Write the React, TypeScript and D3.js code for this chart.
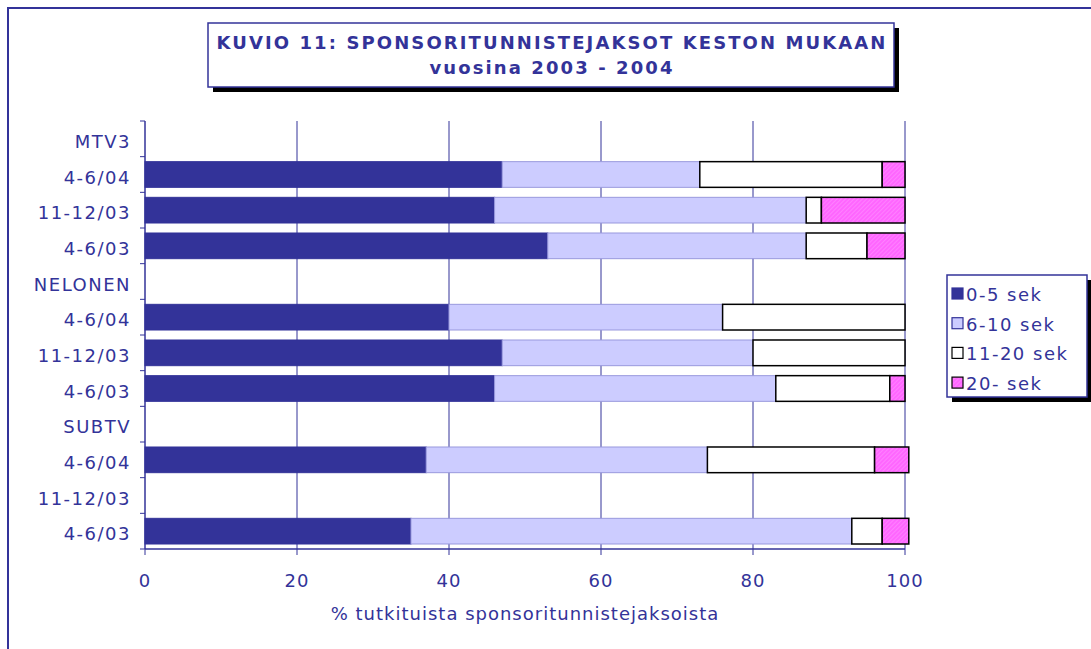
import React from "react";
import * as d3 from "d3";

// rows of the chart, top to bottom (group headers have no bars)
const rowLabels = [
  "MTV3", "4-6/04", "11-12/03", "4-6/03",
  "NELONEN", "4-6/04", "11-12/03", "4-6/03",
  "SUBTV", "4-6/04", "11-12/03", "4-6/03",
];
const seriesNames = ["0-5 sek", "6-10 sek", "11-20 sek", "20- sek"];
const sek0_5 = [0, 47, 46, 53, 0, 40, 47, 46, 0, 37, 0, 35];
const sek6_10 = [0, 26, 41, 34, 0, 36, 33, 37, 0, 37, 0, 58];
const sek11_20 = [0, 24, 2, 8, 0, 24, 20, 15, 0, 22, 0, 4];
const sek20 = [0, 3, 11, 5, 0, 0, 0, 2, 0, 4.5, 0, 3.5];
const xTicks = [0, 20, 40, 60, 80, 100];

const BLUE = "#333399";
const fills = [BLUE, "#CCCCFF", "#FFFFFF", "url(#pinkHatch)"];
const strokes = [BLUE, "#9999DD", "#000000", "#000000"];
const strokeW = [1, 1, 1.5, 1.5];

export default function App() {
  let series = [sek0_5, sek6_10, sek11_20, sek20];
  let idx = rowLabels.map((d, i) => i);

  let x = d3.scaleLinear().domain([0, 100]).range([145, 905]);
  let y = d3.scaleBand<number>().domain(idx).range([121, 549]).paddingInner(0.28).paddingOuter(0.14);
  let step = y.step();
  let top = 121;
  let bottom = 549;

  const font = "DejaVu Sans, Verdana, sans-serif";

  // stack the series per row
  let segs: any[] = [];
  idx.forEach((r) => {
    let acc = 0;
    series.forEach((s, k) => {
      let v = s[r];
      if (v > 0) {
        segs.push({ r, k, x0: acc, x1: acc + v });
      }
      acc += v;
    });
  });

  return (
    <svg width={1091} height={649} style={{ position: "absolute", left: 0, top: 0, background: "#fff" }}>
      <defs>
        <pattern id="pinkHatch" width="3" height="3" patternUnits="userSpaceOnUse" patternTransform="rotate(45)">
          <rect width="3" height="3" fill="#FF66FF" />
          <line x1="0" y1="0" x2="0" y2="3" stroke="#FF99FF" strokeWidth="1" />
        </pattern>
      </defs>

      {/* outer frame */}
      <rect x={8} y={8} width={1200} height={800} fill="none" stroke={BLUE} strokeWidth={2} />

      {/* grid lines */}
      {xTicks.slice(1).map((t) => (
        <line key={"g" + t} x1={x(t)} x2={x(t)} y1={top} y2={bottom} stroke={BLUE} strokeWidth={1} />
      ))}

      {/* bars */}
      {segs.map((s, i) => (
        <rect
          key={i}
          x={x(s.x0)}
          y={y(s.r)}
          width={x(s.x1) - x(s.x0)}
          height={y.bandwidth()}
          fill={fills[s.k]}
          stroke={strokes[s.k]}
          strokeWidth={strokeW[s.k]}
        />
      ))}

      {/* y axis */}
      <line x1={145} x2={145} y1={top} y2={bottom} stroke={BLUE} strokeWidth={1.5} />
      {d3.range(rowLabels.length + 1).map((i) => (
        <line key={"yt" + i} x1={140} x2={145} y1={top + i * step} y2={top + i * step} stroke={BLUE} strokeWidth={1} />
      ))}
      {rowLabels.map((l, i) => (
        <text
          key={"yl" + i}
          x={131}
          y={(y(i) as number) + y.bandwidth() / 2 + 9}
          textAnchor="end"
          fontFamily={font}
          fontSize={18}
          letterSpacing={1.5}
          fill={BLUE}
        >
          {l}
        </text>
      ))}

      {/* x axis */}
      <line x1={145} x2={905} y1={bottom} y2={bottom} stroke={BLUE} strokeWidth={1.5} />
      {xTicks.map((t) => (
        <g key={"xt" + t}>
          <line x1={x(t)} x2={x(t)} y1={bottom} y2={bottom + 6} stroke={BLUE} strokeWidth={1} />
          <text x={x(t)} y={587} textAnchor="middle" fontFamily={font} fontSize={18} letterSpacing={1} fill={BLUE}>
            {t}
          </text>
        </g>
      ))}
      <text x={525} y={620} textAnchor="middle" fontFamily={font} fontSize={18} letterSpacing={1} fill={BLUE}>
        % tutkituista sponsoritunnistejaksoista
      </text>

      {/* title */}
      <rect x={213} y={28} width={686} height={64} fill="#000" />
      <rect x={208} y={23} width={686} height={64} fill="#fff" stroke={BLUE} strokeWidth={1.5} />
      <text x={552} y={49} textAnchor="middle" fontFamily={font} fontWeight="bold" fontSize={18} letterSpacing={2.1} fill={BLUE}>
        KUVIO 11: SPONSORITUNNISTEJAKSOT KESTON MUKAAN
      </text>
      <text x={552} y={74} textAnchor="middle" fontFamily={font} fontWeight="bold" fontSize={18} letterSpacing={2.1} fill={BLUE}>
        vuosina 2003 - 2004
      </text>

      {/* legend */}
      <rect x={952} y={280} width={140} height={122} fill="#000" />
      <rect x={947} y={275} width={140} height={122} fill="#fff" stroke={BLUE} strokeWidth={1.5} />
      {seriesNames.map((n, k) => {
        let cy = 294 + k * 29.7;
        return (
          <g key={"lg" + k}>
            <rect x={952} y={cy - 6} width={11} height={11} fill={fills[k]} stroke={k < 2 ? BLUE : "#000"} strokeWidth={1.2} />
            <text x={966} y={cy + 7} fontFamily={font} fontSize={18} letterSpacing={1.5} fill={BLUE}>
              {n}
            </text>
          </g>
        );
      })}
    </svg>
  );
}
